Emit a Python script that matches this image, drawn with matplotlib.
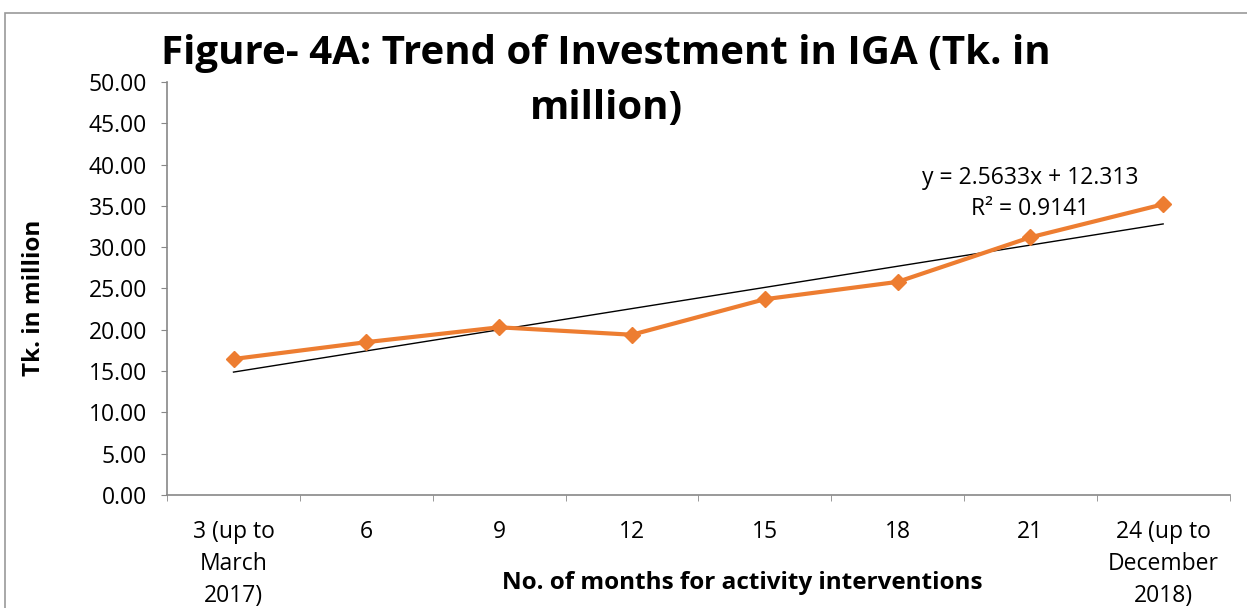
import matplotlib.pyplot as plt
from matplotlib.patches import Rectangle

plt.rcParams['font.family'] = ['Open Sans', 'DejaVu Sans']

categories = ['3 (up to\nMarch\n2017)', '6', '9', '12', '15', '18', '21',
              '24 (up to\nDecember\n2018)']
investment = [16.46, 18.5, 20.3, 19.4, 23.7, 25.8, 31.2, 35.2]
trend_slope = 2.5633
trend_intercept = 12.313
r_squared = 0.9141

x = list(range(1, len(categories) + 1))
trend = [trend_slope * i + trend_intercept for i in x]

fig = plt.figure(figsize=(12.47, 6.08), dpi=100)
ax = fig.add_axes([0.134, 0.186, 0.852, 0.679])

ax.plot(x, trend, color='black', linewidth=1.0, zorder=2)
ax.plot(x, investment, color='#ED7D31', linewidth=3, marker='D',
        markersize=8, zorder=3)

ax.set_xlim(0.5, 8.5)
ax.set_ylim(0, 50)
ax.set_yticks([i * 5 for i in range(11)])
ax.set_yticklabels([f'{i * 5:.2f}' for i in range(11)])
ax.set_xticks(x)
ax.set_xticklabels(categories, linespacing=1.45, va='top')
ax.set_xticks([i + 0.5 for i in range(0, 9)], minor=True)
ax.tick_params(axis='x', which='major', length=0, pad=18, labelsize=16.5)
ax.tick_params(axis='x', which='minor', length=4.5, color='#888888')
ax.tick_params(axis='y', length=4.5, pad=10, color='#888888', labelsize=16.5)

for side in ['top', 'right']:
    ax.spines[side].set_visible(False)
for side in ['left', 'bottom']:
    ax.spines[side].set_color('#888888')
    ax.spines[side].set_linewidth(1.2)

fig.text(34 / 1247, 1 - 298 / 608, 'Tk. in million', fontsize=17.5,
         fontweight='bold', rotation=90, ha='center', va='center')
fig.text(742 / 1247, 1 - 583 / 608, 'No. of months for activity interventions',
         fontsize=17.5, fontweight='bold', ha='center', va='center')

fig.text(606 / 1247, 1 - 81 / 608,
         'Figure- 4A: Trend of Investment in IGA (Tk. in\nmillion)',
         fontsize=29, fontweight='bold', ha='center', va='center',
         linespacing=1.55)

ax.text(7.0, 33.2, f'y = {trend_slope}x + {trend_intercept}\nR² = {r_squared}',
        fontsize=16.5, ha='center', va='bottom', linespacing=1.35)

fig.patches.append(Rectangle((5 / 1247, -0.1), 1.2, 1 - 13 / 608 + 0.1,
                             transform=fig.transFigure, fill=False,
                             edgecolor='#999999', linewidth=1.2))

fig.savefig('out.png', dpi=100)
